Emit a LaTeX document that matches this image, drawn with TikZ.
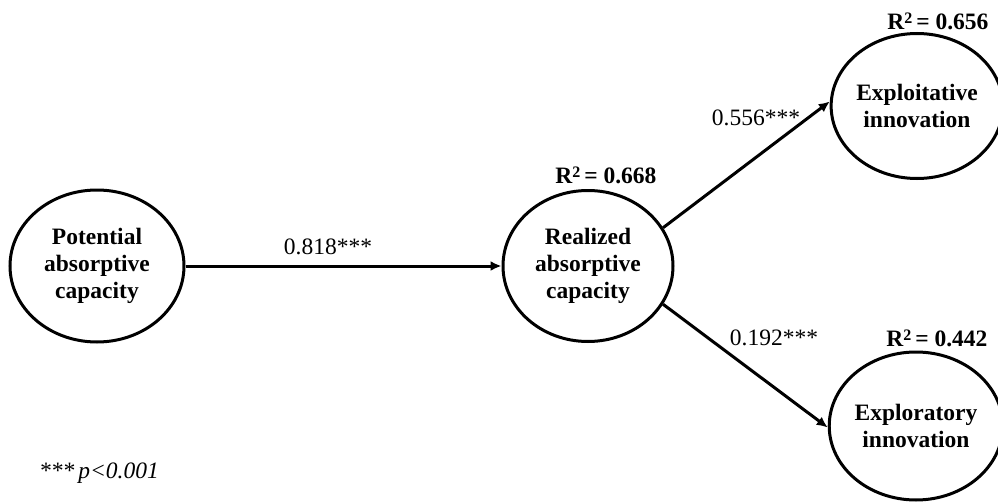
\documentclass[tikz,border=0pt]{standalone}
\usepackage{fontspec}
\setmainfont{Liberation Serif}
\usetikzlibrary{arrows.meta}
\usetikzlibrary{shapes.geometric}

\newcommand{\sqtwo}{\raisebox{0.55ex}{\fontsize{8}{8}\selectfont 2}}

\tikzset{
  construct/.style={ellipse, draw, line width=1.5pt, inner sep=0pt,
    align=center, font=\fontsize{11.75}{13.5}\selectfont\bfseries},
  path/.style={line width=1.5pt, -{Latex[length=5.5pt,width=5pt]}},
  coef/.style={font=\fontsize{11.75}{13.5}\selectfont},
  rsq/.style={font=\fontsize{11.75}{13.5}\selectfont\bfseries}
}

\begin{document}
\begin{tikzpicture}[x=0.5pt, y=-0.5pt]
\useasboundingbox (0,0) rectangle (998,503); % adjust bounding box
\node [construct, minimum width=87pt, minimum height=76pt] (PAC) at (97,266)
      {Potential\\absorptive\\capacity};
\node [construct, minimum width=85pt, minimum height=75.5pt] (RAC) at (588,266)
      {Realized\\absorptive\\capacity};
\node [construct, minimum width=80pt, minimum height=72.5pt] (EXI) at (917,106)
      {Exploitative\\innovation};
\node [construct, minimum width=81pt, minimum height=74pt] (EXR) at (916,426)
      {Exploratory\\innovation};
\draw [path] (PAC) -- (RAC);
\draw [path] (RAC.27) -- (EXI.177);
\draw [path] (RAC.-27) -- (EXR.181);
\node [coef] (c1) at (328,247) {0.818***};
\node [coef] (c2) at (756,118) {0.556***};
\node [coef] (c3) at (774,338) {0.192***};
\node [rsq] (r1) at (606,175) {R\sqtwo\,= 0.668};
\node [rsq] (r2) at (938,21) {R\sqtwo\,= 0.656};
\node [rsq] (r3) at (937,338) {R\sqtwo\,= 0.442};
\node [coef] (note) at (99,473) {\itshape ***\,p<0.001};
\end{tikzpicture}
\end{document}
